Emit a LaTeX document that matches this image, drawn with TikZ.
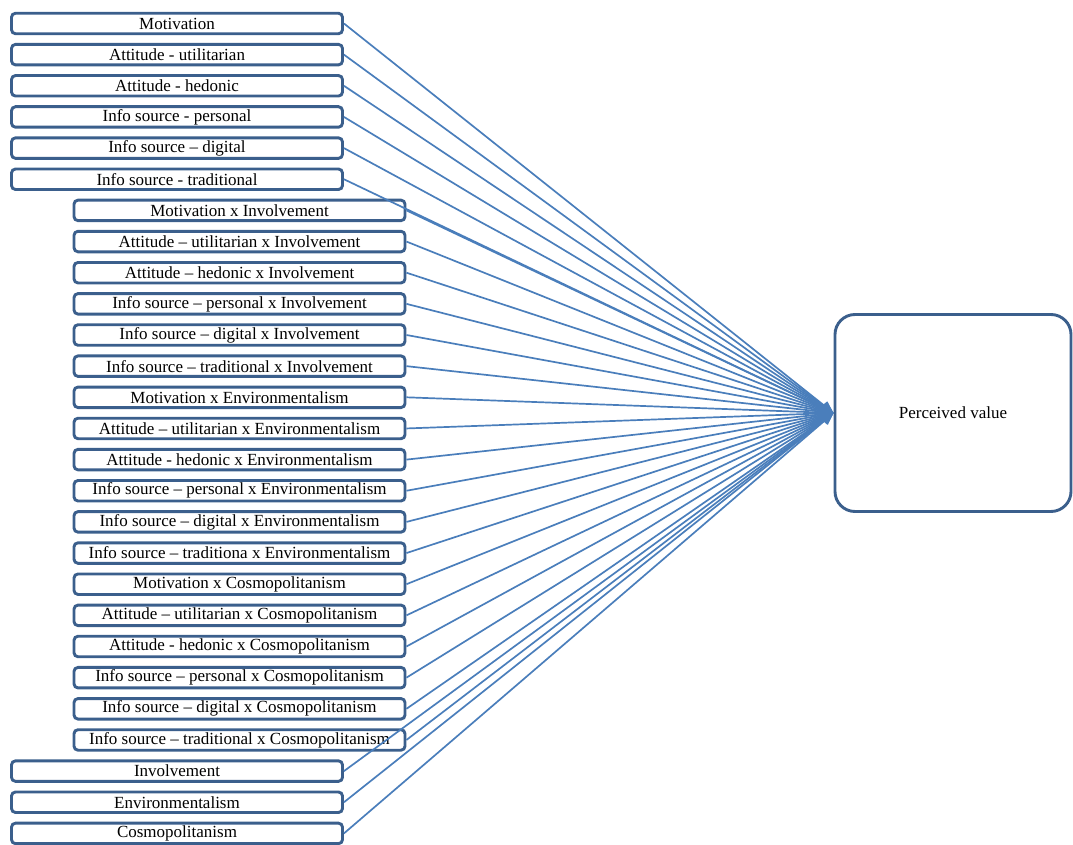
\documentclass[tikz,border=0pt]{standalone}
\usepackage{fontspec}
\setmainfont{Liberation Serif}
\usetikzlibrary{arrows.meta}
\definecolor{boxline}{HTML}{3B5F8C}
\definecolor{linkline}{HTML}{4A7EBB}
\begin{document}
\begin{tikzpicture}[x=1pt,y=-1pt,
  factor/.style={draw=boxline,line width=2.9pt,rounded corners=4pt,fill=white,
    minimum width=331pt,minimum height=20.5pt,inner sep=0pt,
    font=\fontsize{17}{18}\selectfont},
  outcome/.style={draw=boxline,line width=2.9pt,rounded corners=20pt,fill=white,
    minimum width=236pt,minimum height=197pt,inner sep=0pt,
    font=\fontsize{17}{18}\selectfont},
  link/.style={draw=linkline,line width=1.7pt,-{Triangle[length=12pt,width=10pt]}}]
\useasboundingbox (0,0) rectangle (1073,845);

% outcome
\node[outcome] (pv) at (953,413) {Perceived value};

% main effects (left column) and interaction terms (indented column)
\foreach \i/\cx/\txt in {
  0/177/{Motivation},
  1/177/{Attitude - utilitarian},
  2/177/{Attitude - hedonic},
  3/177/{Info source - personal},
  4/177/{Info source – digital},
  5/177/{Info source - traditional},
  6/239.5/{Motivation x Involvement},
  7/239.5/{Attitude – utilitarian x Involvement},
  8/239.5/{Attitude – hedonic x Involvement},
  9/239.5/{Info source – personal x Involvement},
  10/239.5/{Info source – digital x Involvement},
  11/239.5/{Info source – traditional x Involvement},
  12/239.5/{Motivation x Environmentalism},
  13/239.5/{Attitude – utilitarian x Environmentalism},
  14/239.5/{Attitude - hedonic x Environmentalism},
  15/239.5/{Info source – personal x Environmentalism},
  16/239.5/{Info source – digital x Environmentalism},
  17/239.5/{Info source – traditiona x Environmentalism},
  18/239.5/{Motivation x Cosmopolitanism},
  19/239.5/{Attitude – utilitarian x Cosmopolitanism},
  20/239.5/{Attitude - hedonic x Cosmopolitanism},
  21/239.5/{Info source – personal x Cosmopolitanism},
  22/239.5/{Info source – digital x Cosmopolitanism},
  23/239.5/{Info source – traditional x Cosmopolitanism},
  24/177/{Involvement},
  25/177/{Environmentalism},
  26/177/{Cosmopolitanism}}{
  \node[factor] (f\i) at (\cx,{23.5+31.15*\i}) {\txt};
}

% paths into the outcome
\foreach \i in {0,...,26}{
  \draw[link] (f\i.east) -- (pv.west);
}
\end{tikzpicture}
\end{document}
